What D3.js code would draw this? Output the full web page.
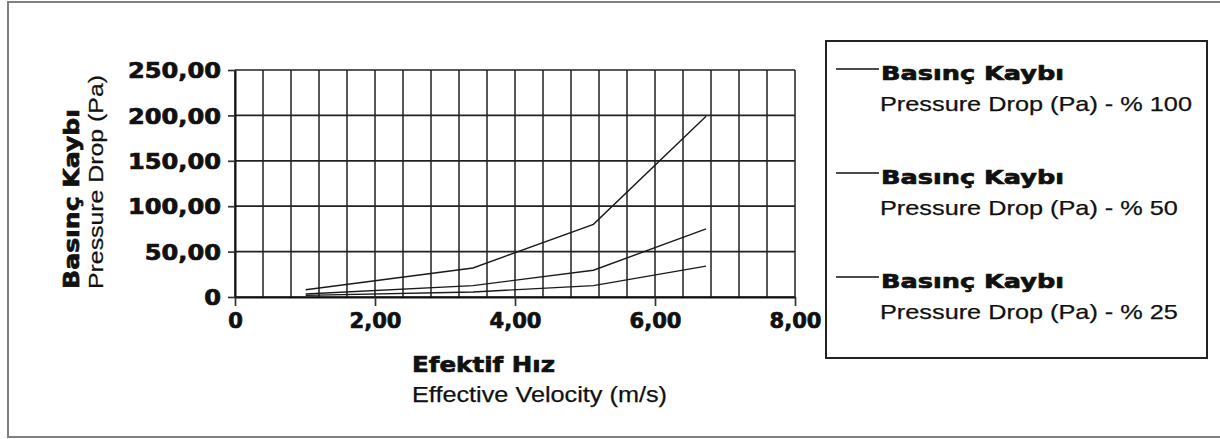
<!DOCTYPE html>
<html>
<head>
<meta charset="utf-8">
<script src="https://cdn.jsdelivr.net/npm/d3@7"></script>
<style>
  html, body { margin: 0; padding: 0; background: #fff; }
  svg { display: block; }
  .heavy { font-family: "DejaVu Sans", "Roboto", sans-serif; font-weight: 700; fill: #111; stroke: #111; stroke-width: 0.7; stroke-linejoin: round; }
  .reg { font-family: "Liberation Sans", Arial, sans-serif; font-weight: 400; fill: #111; stroke: #111; stroke-width: 0.25; }
</style>
</head>
<body>
<svg id="chart" width="1220" height="439"></svg>
<script>
// ---- data ----
const velocity = [1.01, 3.40, 5.12, 6.73];
const drop100 = [8, 32, 80, 199];
const drop50  = [3.3, 12.5, 29.5, 75];
const drop25  = [1.8, 5.5, 12.5, 34];
const seriesNames = ["Pressure Drop (Pa) - % 100", "Pressure Drop (Pa) - % 50", "Pressure Drop (Pa) - % 25"];
const legendTitle = "Basınç Kaybı";
const xTickValues = [0, 2, 4, 6, 8];
const yTickValues = [0, 50, 100, 150, 200, 250];
const xTitle = ["Efektif Hız", "Effective Velocity (m/s)"];
const yTitle = ["Basınç Kaybı", "Pressure Drop (Pa)"];

const svg = d3.select("#chart");

function fitWidth(sel, target) {
  sel.each(function() {
    if (this.getComputedTextLength() > 0)
      d3.select(this).attr("textLength", target).attr("lengthAdjust", "spacingAndGlyphs");
  });
}
function stretch(sel, factor) {
  sel.each(function() {
    const len = this.getComputedTextLength();
    if (len > 0) d3.select(this).attr("textLength", len * factor).attr("lengthAdjust", "spacingAndGlyphs");
  });
}
function stretchGroup(sel, target) {
  let maxLen = 0;
  sel.each(function() { maxLen = Math.max(maxLen, this.getComputedTextLength()); });
  if (maxLen > 0) sel.call(stretch, target / maxLen);
}

// outer frame
svg.append("rect").attr("x", 8).attr("y", 2).attr("width", 1230).attr("height", 435)
  .attr("fill", "none").attr("stroke", "#808080").attr("stroke-width", 2);

const x = d3.scaleLinear().domain([0, 8]).range([235, 795]);
const y = d3.scaleLinear().domain([0, 250]).range([297, 70]);

// grid
const gridX = d3.range(0, 8.0001, 0.4);
svg.append("g").selectAll("line").data(gridX).join("line")
  .attr("x1", d => x(d)).attr("x2", d => x(d)).attr("y1", y(0)).attr("y2", y(250))
  .attr("stroke", "#3a3a3a").attr("stroke-width", 1.7);
svg.append("g").selectAll("line").data(yTickValues).join("line")
  .attr("x1", x(0)).attr("x2", x(8)).attr("y1", d => y(d)).attr("y2", d => y(d))
  .attr("stroke", "#222").attr("stroke-width", 1.7);

const fmt = d => d === 0 ? "0" : d3.format(".2f")(d).replace(".", ",");

// axes
const xAxis = d3.axisBottom(x).tickValues(xTickValues).tickSize(9).tickSizeOuter(0).tickFormat(fmt);
const gx = svg.append("g").attr("transform", `translate(0,${y(0)})`).call(xAxis);
gx.select(".domain").attr("stroke", "#111").attr("stroke-width", 2);
gx.selectAll(".tick line").attr("stroke", "#333").attr("stroke-width", 1.7);
gx.selectAll(".tick text").attr("class", "heavy").attr("font-size", 21).attr("dy", null).attr("y", 31);

const yAxis = d3.axisLeft(y).tickValues(yTickValues).tickSize(7).tickSizeOuter(0).tickFormat(fmt);
const gy = svg.append("g").attr("transform", `translate(${x(0)},0)`).call(yAxis);
gy.select(".domain").attr("stroke", "#111").attr("stroke-width", 2);
gy.selectAll(".tick line").attr("stroke", "#333").attr("stroke-width", 1.7);
gy.selectAll(".tick text").attr("class", "heavy").attr("font-size", 21).attr("x", -14).attr("dy", "0.37em");
svg.selectAll("g.tick text").attr("fill", "#111");

// stretch tick labels to the reference widths
stretchGroup(gy.selectAll(".tick text"), 93);
stretchGroup(gx.selectAll(".tick text"), 52);

// series
const line = d3.line().x((d, i) => x(velocity[i])).y(d => y(d));
[drop100, drop50, drop25].forEach(s => {
  svg.append("path").attr("d", line(s)).attr("fill", "none")
    .attr("stroke", "#1a1a1a").attr("stroke-width", 1.4);
});

// x title
svg.append("text").attr("class", "heavy").attr("x", 412).attr("y", 372).attr("font-size", 22)
  .text(xTitle[0]).call(fitWidth, 143);
svg.append("text").attr("class", "reg").attr("x", 412).attr("y", 402).attr("font-size", 22)
  .text(xTitle[1]).call(fitWidth, 255);

// y title
svg.append("text").attr("class", "heavy").attr("font-size", 21)
  .attr("transform", "translate(79,289) rotate(-90)").text(yTitle[0]).call(fitWidth, 180);
svg.append("text").attr("class", "reg").attr("font-size", 21)
  .attr("transform", "translate(103,289) rotate(-90)").text(yTitle[1]).call(fitWidth, 214);

// legend
svg.append("rect").attr("x", 826).attr("y", 41).attr("width", 381).attr("height", 317)
  .attr("fill", "none").attr("stroke", "#222").attr("stroke-width", 2);
const legendRows = [0, 1, 2];
const lg = svg.append("g").selectAll("g").data(legendRows).join("g")
  .attr("transform", d => `translate(0,${d * 104})`);
lg.append("line").attr("x1", 836).attr("x2", 879).attr("y1", 69).attr("y2", 69)
  .attr("stroke", "#111").attr("stroke-width", 1.4);
lg.append("text").attr("class", "heavy").attr("x", 881).attr("y", 80).attr("font-size", 20)
  .text(legendTitle).call(fitWidth, 183);
lg.append("text").attr("class", "reg").attr("x", 880).attr("y", 111).attr("font-size", 21)
  .text(d => seriesNames[d]);
stretchGroup(lg.selectAll("text.reg"), 312);
</script>
</body>
</html>
